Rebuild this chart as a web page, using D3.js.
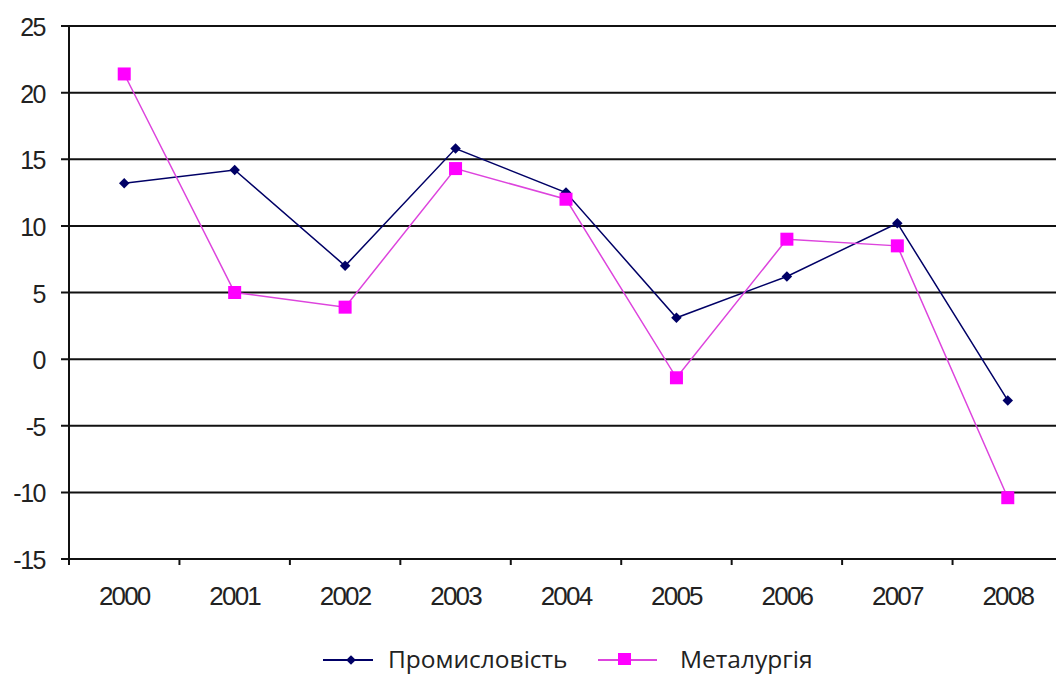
<!DOCTYPE html>
<html>
<head>
<meta charset="utf-8">
<script src="https://cdn.jsdelivr.net/npm/d3@7"></script>
<style>
  body { margin: 0; background: #fff; }
  svg { display: block; }
</style>
</head>
<body>
<div id="chart"></div>
<script>
const years = ["2000", "2001", "2002", "2003", "2004", "2005", "2006", "2007", "2008"];
const industry = [13.2, 14.2, 7.0, 15.8, 12.5, 3.1, 6.2, 10.2, -3.1];
const metallurgy = [21.4, 5.0, 3.9, 14.3, 12.0, -1.4, 9.0, 8.5, -10.4];
const yTicks = [25, 20, 15, 10, 5, 0, -5, -10, -15];
const seriesNames = ["Промисловість", "Металургія"];

const width = 1056, height = 675;
const margin = { top: 26, right: -7, bottom: 116, left: 69 };

const svg = d3.select("#chart").append("svg")
  .attr("width", width)
  .attr("height", height);

const x = d3.scaleBand()
  .domain(years)
  .range([margin.left, width - margin.right]);

const y = d3.scaleLinear()
  .domain([-15, 25])
  .range([height - margin.bottom, margin.top]);

const tickFont = "Liberation Sans, Arial, sans-serif";

// gridlines
svg.append("g")
  .selectAll("line")
  .data(yTicks)
  .join("line")
  .attr("x1", margin.left - 8)
  .attr("x2", width)
  .attr("y1", d => y(d))
  .attr("y2", d => y(d))
  .attr("stroke", "#111")
  .attr("stroke-width", 2);

// y axis line
svg.append("line")
  .attr("x1", margin.left).attr("x2", margin.left)
  .attr("y1", y(25)).attr("y2", y(-15) + 6)
  .attr("stroke", "#111").attr("stroke-width", 2);

// y labels
svg.append("g")
  .selectAll("text")
  .data(yTicks)
  .join("text")
  .attr("x", margin.left - 24)
  .attr("y", d => y(d) + 10)
  .attr("text-anchor", "end")
  .style("font-family", tickFont)
  .style("font-size", "25px")
  .style("letter-spacing", "-1.5px")
  .attr("fill", "#222")
  .text(d => d);

// x ticks at band boundaries
svg.append("g")
  .selectAll("line")
  .data(years.slice(1))
  .join("line")
  .attr("x1", d => x(d)).attr("x2", d => x(d))
  .attr("y1", y(-15)).attr("y2", y(-15) + 6)
  .attr("stroke", "#111").attr("stroke-width", 2);

// x labels
svg.append("g")
  .selectAll("text")
  .data(years)
  .join("text")
  .attr("x", d => x(d) + x.bandwidth() / 2)
  .attr("y", 605)
  .attr("text-anchor", "middle")
  .style("font-family", tickFont)
  .style("font-size", "26px")
  .style("letter-spacing", "-1.8px")
  .attr("fill", "#222")
  .text(d => d);

const cx = (d, i) => x(years[i]) + x.bandwidth() / 2;
const line = d3.line().x(cx).y(d => y(d));

// Промисловість
svg.append("path")
  .datum(industry)
  .attr("d", line)
  .attr("fill", "none")
  .attr("stroke", "#000066")
  .attr("stroke-width", 1.5);

svg.append("g")
  .selectAll("path")
  .data(industry)
  .join("path")
  .attr("d", d3.symbol(d3.symbolDiamond2, 70))
  .attr("transform", (d, i) => `translate(${cx(d, i)},${y(d)})`)
  .attr("fill", "#000066");

// Металургія
svg.append("path")
  .datum(metallurgy)
  .attr("d", line)
  .attr("fill", "none")
  .attr("stroke", "#dd44dd")
  .attr("stroke-width", 1.5);

svg.append("g")
  .selectAll("rect")
  .data(metallurgy)
  .join("rect")
  .attr("x", (d, i) => cx(d, i) - 6.5)
  .attr("y", d => y(d) - 6.5)
  .attr("width", 13)
  .attr("height", 13)
  .attr("fill", "#ff00ff");

// legend
const legend = svg.append("g");
legend.append("line")
  .attr("x1", 323).attr("x2", 373).attr("y1", 660).attr("y2", 660)
  .attr("stroke", "#000066").attr("stroke-width", 2);
legend.append("path")
  .attr("d", d3.symbol(d3.symbolDiamond2, 60))
  .attr("transform", "translate(351,660)")
  .attr("fill", "#000066");
legend.append("text")
  .attr("x", 388).attr("y", 668)
  .style("font-family", "Open Sans, Noto Sans, sans-serif")
  .style("font-size", "24.5px")
  .attr("fill", "#222")
  .text(seriesNames[0]);

legend.append("line")
  .attr("x1", 598).attr("x2", 657).attr("y1", 660).attr("y2", 660)
  .attr("stroke", "#dd44dd").attr("stroke-width", 2);
legend.append("rect")
  .attr("x", 618).attr("y", 653).attr("width", 13).attr("height", 12)
  .attr("fill", "#ff00ff");
legend.append("text")
  .attr("x", 680).attr("y", 668)
  .style("font-family", "Open Sans, Noto Sans, sans-serif")
  .style("font-size", "24.5px")
  .attr("fill", "#222")
  .text(seriesNames[1]);
</script>
</body>
</html>
